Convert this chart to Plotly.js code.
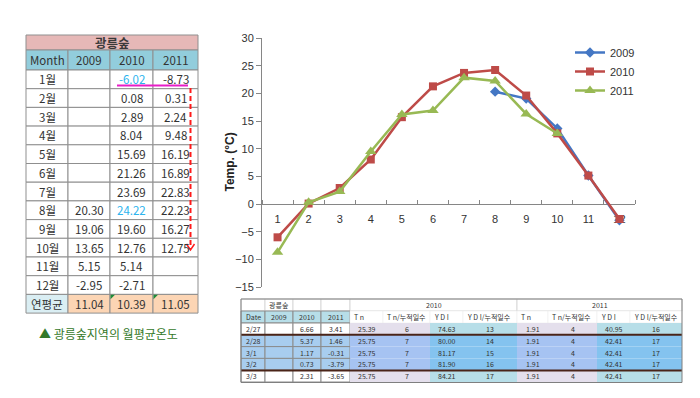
<!DOCTYPE html>
<html><head><meta charset="utf-8">
<script src="https://cdn.plot.ly/plotly-3.0.1.min.js"></script>
<style>html,body{margin:0;padding:0;background:#fff}</style>
</head><body><div id="chart" style="width:700px;height:398px"></div>
<script>
// ---------------- DATA ----------------
const months = [1, 2, 3, 4, 5, 6, 7, 8, 9, 10, 11, 12];
const monthLabels = ['1월', '2월', '3월', '4월', '5월', '6월', '7월', '8월', '9월', '10월', '11월', '12월'];
const years = ['2009', '2010', '2011'];
const t2009 = [null, null, null, null, null, null, null, 20.30, 19.06, 13.65, 5.15, -2.95];
const t2010 = [-6.02, 0.08, 2.89, 8.04, 15.69, 21.26, 23.69, 24.22, 19.60, 12.76, 5.14, -2.71];
const t2011 = [-8.73, 0.31, 2.24, 9.48, 16.19, 16.89, 22.83, 22.23, 16.27, 12.75, null, null];
const yearAvg = [11.04, 10.39, 11.05];
const avgLabel = '연평균';
const monthHead = 'Month';
const siteName = '광릉숲';
const captionText = '▲ 광릉숲지역의 월평균온도';
const yTitle = 'Temp. (°C)';

// small daily table (bottom right)
const dates = ['2/27', '2/28', '3/1', '3/2', '3/3'];
const d2009 = ['', '', '', '', ''];
const d2010 = [6.66, 5.37, 1.17, 0.73, 2.31];
const d2011 = [3.41, 1.46, -0.31, -3.79, -3.65];
const tn2010 = [25.39, 25.75, 25.75, 25.75, 25.75];
const tnDays2010 = [6, 7, 7, 7, 7];
const ydi2010 = [74.63, 80.00, 81.17, 81.90, 84.21];
const ydiDays2010 = [13, 14, 15, 16, 17];
const tn2011 = [1.91, 1.91, 1.91, 1.91, 1.91];
const tnDays2011 = [4, 4, 4, 4, 4];
const ydi2011 = [40.95, 42.41, 42.41, 42.41, 42.41];
const ydiDays2011 = [16, 17, 17, 17, 17];
const dailyHeads = ['Date', '2009', '2010', '2011', 'T n', 'T n/누적일수', 'Y D I', 'Y D I/누적일수', 'T n', 'T n/누적일수', 'Y D I', 'Y D I/누적일수'];
const groupHeads = ['', siteName, '', '', '2010', '2011'];

// ---------------- LAYOUT HELPERS ----------------
const W = 700, H = 398;
const px = x => x / W;
const py = y => 1 - y / H;
const fmt = v => (v === null || v === undefined || v === '') ? '' : v.toFixed(2);
const KR = '"Noto Sans CJK KR", "Noto Sans", sans-serif';
const shapes = [];
const annotations = [];

function cell(x0, x1, y0, y1, fill, lineColor, lineWidth) {
  shapes.push({type: 'rect', xref: 'paper', yref: 'paper', layer: 'below',
    x0: px(x0), x1: px(x1), y0: py(y1), y1: py(y0),
    fillcolor: fill, line: {color: lineColor, width: lineWidth}});
}
function label(text, x, y, size, color, anchor) {
  if (text === '') return;
  annotations.push({xref: 'paper', yref: 'paper', x: px(x), y: py(y),
    xanchor: anchor || 'center', yanchor: 'middle', text: text, showarrow: false,
    font: {family: KR, size: size, color: color}});
}

// ---------------- LINE CHART ----------------
const yRange = [-15, 30];
const yDomain = [py(287), py(38)];
const xDomain = [px(262), px(635)];
const xAxisPos = yDomain[0] + (0 - yRange[0]) / (yRange[1] - yRange[0]) * (yDomain[1] - yDomain[0]);

const seriesStyle = [
  {color: '#4477C4', symbol: 'diamond', size: 8},
  {color: '#BE4B48', symbol: 'square', size: 8},
  {color: '#98B954', symbol: 'triangle-up', size: 10}
];
const seriesData = [t2009, t2010, t2011];

const lineTraces = seriesData.map((vals, i) => ({
  type: 'scatter', mode: 'lines+markers', name: years[i],
  x: months, y: vals, connectgaps: false,
  line: {color: seriesStyle[i].color, width: 2.5},
  marker: {color: seriesStyle[i].color, symbol: seriesStyle[i].symbol, size: seriesStyle[i].size},
  cliponaxis: false
}));

annotations.push({xref: 'paper', yref: 'paper', x: px(230), y: (yDomain[0] + yDomain[1]) / 2,
  xanchor: 'center', yanchor: 'middle', textangle: -90, showarrow: false,
  text: '<b>' + yTitle + '</b>', font: {family: 'Liberation Sans, Arial, sans-serif', size: 12, color: '#222222'}});

// ---------------- LEFT TABLE ----------------
const leftEdges = [26, 68, 110, 153, 198];
const leftTitleTop = 35, leftHeadTop = 50, leftBodyTop = 70, leftRowH = 18.7;
const leftGrid = '#8F8F8F';
const leftColumns = [monthLabels.concat([avgLabel])].concat(
  seriesData.map((vals, i) => vals.map(fmt).concat([fmt(yearAvg[i])]))
);
const blueCells = {2: [0, 7]};

cell(leftEdges[0], leftEdges[4], leftTitleTop, leftHeadTop, '#E6B8B7', leftGrid, 1);
label('<b>' + siteName + '</b>', (leftEdges[0] + leftEdges[4]) / 2, (leftTitleTop + leftHeadTop) / 2 + 0.5, 12.5, '#3A3A3A');
[monthHead].concat(years).forEach((h, c) => {
  cell(leftEdges[c], leftEdges[c + 1], leftHeadTop, leftBodyTop, '#92CDDC', leftGrid, 1);
  label(h, (leftEdges[c] + leftEdges[c + 1]) / 2, (leftHeadTop + leftBodyTop) / 2, 11.5, '#333333');
});
leftColumns.forEach((col, c) => {
  col.forEach((v, r) => {
    const top = leftBodyTop + r * leftRowH, bot = top + leftRowH;
    const isAvg = r === col.length - 1;
    const fill = isAvg ? (c === 0 ? '#DAEEF3' : '#FCD5B4') : '#FFFFFF';
    cell(leftEdges[c], leftEdges[c + 1], top, bot, fill, leftGrid, 1);
    const color = (blueCells[c] && blueCells[c].includes(r)) ? '#2DB4EE' : '#333333';
    label(v, (leftEdges[c] + leftEdges[c + 1]) / 2, (top + bot) / 2, 11.5, color);
  });
});

// ---------------- BOTTOM RIGHT TABLE ----------------
const dEdges = [241, 265, 293, 321, 350, 383, 430, 463, 517, 548, 597, 630, 682];
const dGroupSpans = [[0, 1], [1, 2], [2, 3], [3, 4], [4, 8], [8, 12]];
const dGroupTop = 299, dHeadTop = 311, dBodyTop = 323, dRowH = 11.8;
const dailyColumns = [
  dates, d2009, d2010.map(fmt), d2011.map(fmt),
  tn2010.map(fmt), tnDays2010.map(String), ydi2010.map(fmt), ydiDays2010.map(String),
  tn2011.map(fmt), tnDays2011.map(String), ydi2011.map(fmt), ydiDays2011.map(String)
];
const highlightRows = [1, 2, 3];
const colKind = ['left', 'left', 'left', 'left', 'tn', 'tn', 'ydi', 'ydi', 'tn', 'tn', 'ydi', 'ydi'];
const kindColors = {
  left: ['#FFFFFF', '#A8CDEF'],
  tn: ['#E4DFEC', '#A6C3F2'],
  ydi: ['#B7DEE8', '#84C3EF']
};
const dFont = 7;

dGroupSpans.forEach((s, i) => {
  cell(dEdges[s[0]], dEdges[s[1]], dGroupTop, dHeadTop, '#FFFFFF', '#D9D9D9', 1);
  label(groupHeads[i], (dEdges[s[0]] + dEdges[s[1]]) / 2, (dGroupTop + dHeadTop) / 2, dFont, '#333333');
});
dailyHeads.forEach((h, c) => {
  const left = colKind[c] === 'left';
  cell(dEdges[c], dEdges[c + 1], dHeadTop, dBodyTop, left ? '#B7DEE8' : '#FFFFFF', left ? '#8C8C8C' : '#E8E8E8', left ? 1 : 0.5);
  if (left) label(h, (dEdges[c] + dEdges[c + 1]) / 2, (dHeadTop + dBodyTop) / 2, dFont, '#333333');
  else label(h, dEdges[c] + 2, (dHeadTop + dBodyTop) / 2, dFont, '#333333', 'left');
});
dailyColumns.forEach((col, c) => {
  col.forEach((v, r) => {
    const top = dBodyTop + r * dRowH, bot = top + dRowH;
    const kind = colKind[c];
    const fill = kindColors[kind][highlightRows.includes(r) ? 1 : 0];
    if (kind === 'left') cell(dEdges[c], dEdges[c + 1], top, bot, fill, '#8C8C8C', 1);
    else cell(dEdges[c], dEdges[c + 1], top, bot, fill, fill, 0);
    if (c === 0) label(v, dEdges[c] + 2.5, (top + bot) / 2, dFont, '#333333', 'left');
    else label(v, (dEdges[c] + dEdges[c + 1]) / 2, (top + bot) / 2, dFont, '#333333');
  });
});

// ---------------- DECORATION SHAPES ----------------
shapes.push(
  {type: 'line', xref: 'paper', yref: 'paper', x0: px(117), x1: px(188), y0: py(85.5), y1: py(85.5),
   line: {color: '#E81EC8', width: 2}},
  {type: 'line', xref: 'paper', yref: 'paper', x0: px(190.5), x1: px(190.5), y0: py(88), y1: py(249),
   line: {color: '#FF1A1A', width: 2, dash: '5px,3px'}},
  {type: 'path', xref: 'paper', yref: 'paper',
   path: `M ${px(186.5)} ${py(244)} L ${px(190.5)} ${py(250)} L ${px(194.5)} ${py(244)}`,
   line: {color: '#FF1A1A', width: 1.5}},
  {type: 'path', xref: 'paper', yref: 'paper', fillcolor: '#1E8C3A', line: {width: 0},
   path: `M ${px(110.5)} ${py(294.7)} L ${px(115)} ${py(294.7)} L ${px(110.5)} ${py(299.2)} Z`},
  {type: 'path', xref: 'paper', yref: 'paper', fillcolor: '#1E8C3A', line: {width: 0},
   path: `M ${px(153.5)} ${py(294.7)} L ${px(158)} ${py(294.7)} L ${px(153.5)} ${py(299.2)} Z`},
  {type: 'line', xref: 'paper', yref: 'paper', x0: px(241), x1: px(682), y0: py(334.8), y1: py(334.8),
   line: {color: '#4A2418', width: 2}},
  {type: 'line', xref: 'paper', yref: 'paper', x0: px(241), x1: px(682), y0: py(370.4), y1: py(370.4),
   line: {color: '#4A2418', width: 2}},
  {type: 'rect', xref: 'paper', yref: 'paper', x0: px(241), x1: px(682), y0: py(382.5), y1: py(299),
   line: {color: '#7F7F7F', width: 1}}
);

annotations.push({xref: 'paper', yref: 'paper', x: px(37), y: py(333), xanchor: 'left', yanchor: 'middle',
  text: captionText, showarrow: false, font: {family: KR, size: 12, color: '#34792A'}});

const layout = {
  width: W, height: H,
  margin: {l: 0, r: 0, t: 0, b: 0},
  paper_bgcolor: '#FFFFFF', plot_bgcolor: 'rgba(0,0,0,0)',
  font: {family: 'Liberation Sans, Arial, sans-serif', size: 11, color: '#333333'},
  showlegend: true,
  legend: {x: px(570), y: py(38), xanchor: 'left', yanchor: 'top', bgcolor: 'rgba(0,0,0,0)',
    font: {size: 11, color: '#333333'}, traceorder: 'normal'},
  xaxis: {domain: xDomain, range: [0.5, 12.5], tickvals: months, ticktext: months.map(String),
    anchor: 'free', position: xAxisPos, showline: true, linecolor: '#868686', linewidth: 1,
    ticks: '', ticklabelstandoff: 5, showgrid: false, zeroline: false, layer: 'below traces',
    minor: {tick0: 0.5, dtick: 1, ticks: 'inside', ticklen: 4, tickcolor: '#868686', showgrid: false},
    tickfont: {size: 11, color: '#333333'}, fixedrange: true},
  yaxis: {domain: yDomain, range: yRange, dtick: 5, anchor: 'x', showline: true,
    linecolor: '#868686', linewidth: 1, ticks: 'outside', ticklen: 5, tickcolor: '#868686',
    showgrid: false, zeroline: false, tickfont: {size: 11, color: '#333333'}, fixedrange: true},
  shapes: shapes,
  annotations: annotations
};

Plotly.newPlot('chart', lineTraces, layout, {displayModeBar: false, staticPlot: true});
</script>
</body></html>
